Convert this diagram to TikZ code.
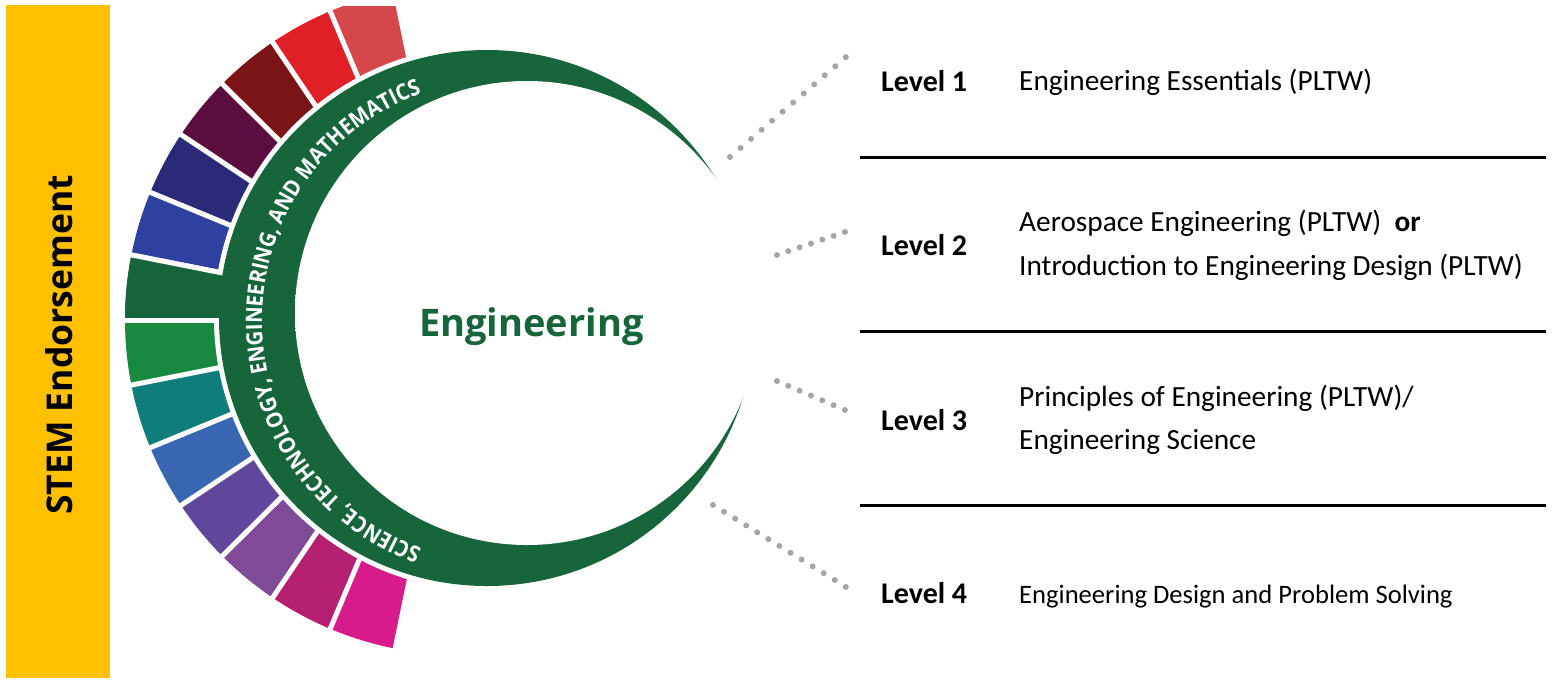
\documentclass[tikz,border=0pt]{standalone}
\usepackage{fontspec}
\setmainfont{Carlito}
\newfontfamily\osans{Open Sans}
\newfontfamily\osanscond{Open Sans}[FakeStretch=0.9]
\usetikzlibrary{decorations.text}
\definecolor{ygold}{HTML}{FFC000}
\definecolor{dgreen}{HTML}{17653A}
\definecolor{dotgray}{HTML}{A6A6A6}
\definecolor{sLightRed}{HTML}{D5474A}
\definecolor{sRed}{HTML}{E11F26}
\definecolor{sDarkRed}{HTML}{7B1416}
\definecolor{sDPurple}{HTML}{5B0D40}
\definecolor{sNavy}{HTML}{2A2A78}
\definecolor{sBlue}{HTML}{2F41A0}
\definecolor{sGreen}{HTML}{178A3F}
\definecolor{sTeal}{HTML}{0F7D79}
\definecolor{sSteel}{HTML}{3866B0}
\definecolor{sViolet}{HTML}{5F489B}
\definecolor{sPurple}{HTML}{7F4B96}
\definecolor{sDPink}{HTML}{B41F6F}
\definecolor{sPink}{HTML}{D81B8B}
\pgfdeclareradialshading{ballshade}{\pgfpoint{0bp}{0bp}}{color(0bp)=(white); color(36bp)=(white); color(44bp)=(black!10); color(48bp)=(black!6); color(50bp)=(black!3)}
\tikzset{
  lvl/.style={font=\bfseries\fontsize{30}{30}\selectfont, inner sep=0pt, anchor=base west},
  desc/.style={font=\fontsize{29.3}{29.3}\selectfont, inner sep=0pt, anchor=base west},
  descsmall/.style={font=\fontsize{26.6}{26.6}\selectfont, inner sep=0pt, anchor=base west},
  rulerline/.style={line width=3pt, black},
  dotline/.style={draw=dotgray, line width=6pt, line cap=round},
  gapline/.style={white, line width=5pt},
}
\begin{document}
\begin{tikzpicture}[x=1pt,y=1pt]
\useasboundingbox (0,0) rectangle (1559,-681);
\fill[white] (0,0) rectangle (1559,-681);

% yellow side bar
\node[fill=ygold, minimum width=104pt, minimum height=673pt, inner sep=0pt, anchor=north west] (bar) at (6,-5) {};
\node[rotate=90, font=\osans\bfseries\fontsize{35.5}{35.5}\selectfont, inner sep=0pt] (stem) at (59,-345) {STEM Endorsement};

% colour ring
\coordinate (C1) at (460,-320);
\coordinate (C2) at (487,-318);
\begin{scope}
\clip (0,-6) rectangle (1559,-681);
\foreach \a/\c in {101.6/sLightRed,112.8/sRed,124/sDarkRed,135.2/sDPurple,146.4/sNavy,157.6/sBlue,168.8/dgreen,180/sGreen,191.2/sTeal,202.4/sSteel,213.6/sViolet,224.8/sPurple,236/sDPink,247.2/sPink}
  \fill[\c] (C1) -- ++(\a:335) arc[start angle=\a, end angle=\a+11.2, radius=335] -- cycle;
\foreach \a in {112.8,124,135.2,146.4,157.6,168.8,180,191.2,202.4,213.6,224.8,236,247.2}
  \draw[gapline] (C1) -- ++(\a:338);
\end{scope}
\fill[white] (C2) circle[radius=273];
% green stem joins the band
\fill[dgreen] (C1) -- ++(168.8:335) arc[start angle=168.8, end angle=180, radius=335] -- cycle;
\foreach \a in {168.8,180}
  \draw[gapline] (C1) -- ++(\a:338);
% green band
\fill[dgreen] (C2) circle[radius=268];
% ball
\shade[shading=ballshade] (527,-313) circle[radius=232];

% text along the band
\path[decorate, decoration={text along path, text align=center, text color=white,
  text={|\osanscond\bfseries\fontsize{22.5}{22.5}\selectfont|SCIENCE, TECHNOLOGY, ENGINEERING, AND MATHEMATICS}}]
  ([shift={(254.5:242)}]504,-321) arc[start angle=254.5, end angle=105.5, radius=242];

\node[font=\osans\bfseries\fontsize{38}{38}\selectfont, text=dgreen, inner sep=0pt, anchor=base] (eng) at (531.5,-336) {Engineering};

% levels
\node[lvl] (lvl1) at (881,-91) {Level 1};
\node[desc] (desc1) at (1019,-90) {Engineering Essentials (PLTW)};
\node[lvl] (lvl2) at (881,-255) {Level 2};
\node[desc] (desc2a) at (1019,-231.7) {Aerospace Engineering (PLTW)\ \ \textbf{or}};
\node[desc] (desc2b) at (1019,-275) {Introduction to Engineering Design (PLTW)};
\node[lvl] (lvl3) at (881,-430) {Level 3};
\node[desc] (desc3a) at (1019,-406) {Principles of Engineering (PLTW)/};
\node[desc] (desc3b) at (1019,-449.3) {Engineering Science};
\node[lvl] (lvl4) at (881,-603) {Level 4};
\node[descsmall] (desc4) at (1019,-603) {Engineering Design and Problem Solving};

% separators
\coordinate (r1a) at (860,-157); \coordinate (r1b) at (1546,-157);
\coordinate (r2a) at (860,-331); \coordinate (r2b) at (1546,-331);
\coordinate (r3a) at (860,-505); \coordinate (r3b) at (1546,-505);
\draw[rulerline] (r1a) -- (r1b);
\draw[rulerline] (r2a) -- (r2b);
\draw[rulerline] (r3a) -- (r3b);

% dotted connectors
\coordinate (d1a) at (730,-157); \coordinate (d1b) at (846,-57);
\coordinate (d2a) at (777,-255); \coordinate (d2b) at (845,-232);
\coordinate (d3a) at (777,-381); \coordinate (d3b) at (845,-410);
\coordinate (d4a) at (713,-505); \coordinate (d4b) at (846,-587);
\draw[dotline, dash pattern=on 0pt off 13.9pt] (d1a) -- (d1b);
\draw[dotline, dash pattern=on 0pt off 11.96pt] (d2a) -- (d2b);
\draw[dotline, dash pattern=on 0pt off 12.3pt] (d3a) -- (d3b);
\draw[dotline, dash pattern=on 0pt off 13.0pt] (d4a) -- (d4b);
\end{tikzpicture}
\end{document}
